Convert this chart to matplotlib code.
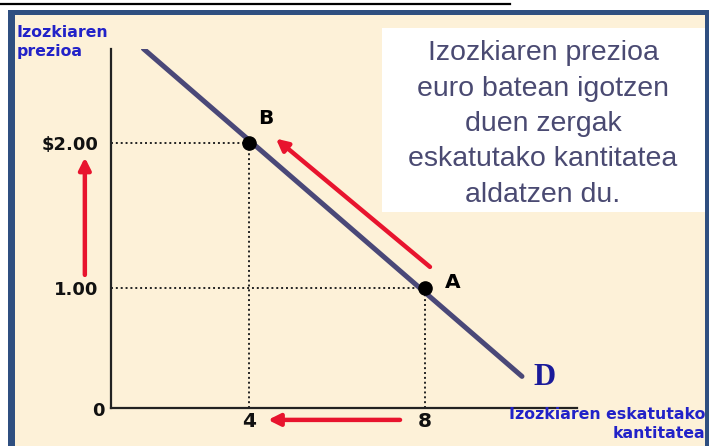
import matplotlib
matplotlib.use("Agg")
import matplotlib.pyplot as plt
from matplotlib.patches import Rectangle
from matplotlib.lines import Line2D

# data
demand_q = [1.6, 10.2]
demand_p = [2.65, 0.39]
point_q = [4, 8]
point_p = [2.0, 1.0]
point_names = ["B", "A"]
ytick_vals = [1, 2]
ytick_labels = ["1.00", r"\$2.00"]
xtick_vals = [4, 8]
xtick_labels = ["4", "8"]
note_lines = ["Izozkiaren prezioa", "euro batean igotzen", "duen zergak",
              "eskatutako kantitatea", "aldatzen du."]

W, H = 709, 446
bg = "#FDF1D8"
frame_blue = "#2F4F80"
curve_col = "#4A4878"
red = "#E8142E"
lbl_blue = "#2222C8"

fig = plt.figure(figsize=(W / 100, H / 100), dpi=100)
fig.patch.set_facecolor("white")

def fx(px):
    return px / W

def fy(py):
    return 1 - py / H

# background and frame
fig.add_artist(Rectangle((fx(8), 0), fx(W - 8), fy(10), transform=fig.transFigure,
                         facecolor=bg, edgecolor="none", zorder=0))
fig.add_artist(Rectangle((fx(8), fy(15)), fx(W - 8), 5 / H, transform=fig.transFigure,
                         facecolor=frame_blue, edgecolor="none", zorder=1))
fig.add_artist(Rectangle((fx(8), 0), fx(7), fy(10), transform=fig.transFigure,
                         facecolor=frame_blue, edgecolor="none", zorder=1))
fig.add_artist(Rectangle((fx(705), 0), fx(4), fy(10), transform=fig.transFigure,
                         facecolor=frame_blue, edgecolor="none", zorder=1))
fig.add_artist(Line2D([0, fx(510)], [fy(4), fy(4)], transform=fig.transFigure,
                      color="black", lw=1.6, zorder=1))

# note box
fig.add_artist(Rectangle((fx(382), fy(212)), fx(705 - 382), (212 - 28) / H,
                         transform=fig.transFigure, facecolor="white",
                         edgecolor="none", zorder=1))
for i, line in enumerate(note_lines):
    fig.text(fx(543), fy(53 + i * 35.5), line, ha="center", va="center",
             fontsize=20.5, color="#4A4A72", family="Liberation Sans", zorder=2)

ax = fig.add_axes([fx(111), fy(408), fx(577 - 111), (408 - 49) / H])
ax.set_facecolor("none")
ax.set_xlim(0.864, 11.45)
ax.set_ylim(0.172, 2.648)
for s in ["top", "right"]:
    ax.spines[s].set_visible(False)
for s in ["left", "bottom"]:
    ax.spines[s].set_linewidth(1.6)
    ax.spines[s].set_color("#222222")

ax.set_yticks(ytick_vals, ytick_labels)
ax.set_xticks(xtick_vals, xtick_labels)
ax.tick_params(axis="y", length=0, pad=9, labelsize=13)
ax.tick_params(axis="x", length=0, pad=3, labelsize=14.5)
for t in ax.get_yticklabels() + ax.get_xticklabels():
    t.set_fontweight("bold")
    t.set_color("#111111")

ax.text(0.57, 0.15, "0", ha="center", va="center",
        fontsize=13, fontweight="bold", color="#111111", clip_on=False)

# dotted guides
for q, p in zip(point_q, point_p):
    ax.plot([0.864, q], [p, p], linestyle=(0, (1, 1.5)), color="#222222", lw=1.4)
    ax.plot([q, q], [0.172, p], linestyle=(0, (1, 1.5)), color="#222222", lw=1.4)

ax.plot(demand_q, demand_p, color=curve_col, lw=3.6, solid_capstyle="round", zorder=3)
ax.plot(point_q, point_p, "o", color="black", ms=9.5, zorder=4)

ax.text(4.38, 2.17, point_names[0], fontsize=14.5, fontweight="bold", ha="center", va="center")
ax.text(8.63, 1.04, point_names[1], fontsize=14.5, fontweight="bold", ha="center", va="center")
ax.text(10.72, 0.38, "D", fontsize=22, fontweight="bold", color="#1A1A9A",
        family="Liberation Serif", ha="center", va="center")

# red arrows
arr = dict(arrowstyle="-|>,head_length=0.7,head_width=0.35", color=red, lw=3.2,
           shrinkA=0, shrinkB=0)
ax.annotate("", xy=(0.27, 1.90), xytext=(0.27, 1.09), arrowprops=arr,
            annotation_clip=False)
ax.annotate("", xy=(4.43, 0.09), xytext=(7.43, 0.09), arrowprops=arr,
            annotation_clip=False)
ax.annotate("", xy=(4.61, 2.03), xytext=(8.11, 1.145), arrowprops=arr)

# axis titles
fig.text(fx(17), fy(25), "Izozkiaren\nprezioa", ha="left", va="top", fontsize=11.3,
         fontweight="bold", color=lbl_blue, linespacing=1.3)
fig.text(fx(705), fy(407), "Izozkiaren eskatutako\nkantitatea", ha="right", va="top",
         fontsize=11.3, fontweight="bold", color=lbl_blue, linespacing=1.3,
         multialignment="right")

fig.savefig("out.png", dpi=100, facecolor=fig.get_facecolor())
